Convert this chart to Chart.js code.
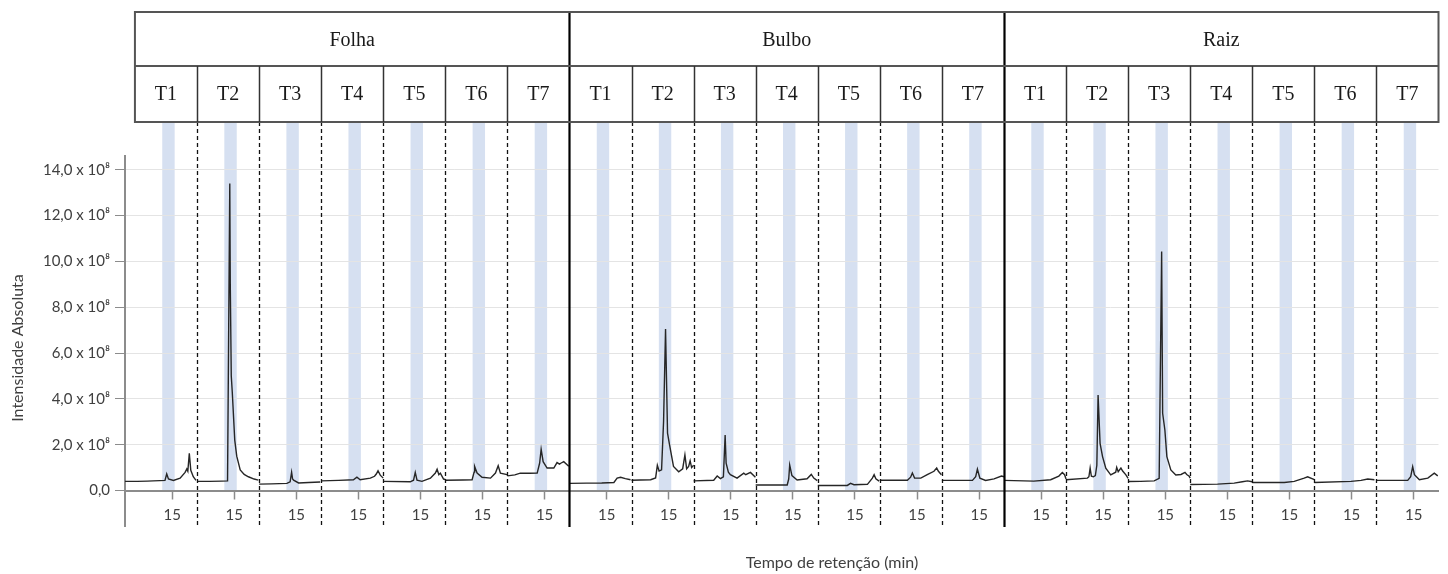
<!DOCTYPE html>
<html>
<head>
<meta charset="utf-8">
<script src="https://cdn.jsdelivr.net/npm/chart.js@4/dist/chart.umd.min.js"></script>
<style>
  html, body { margin: 0; padding: 0; background: #ffffff; }
  canvas { display: block; }
</style>
</head>
<body>
<canvas id="chrom" width="1448" height="574"></canvas>
<script>
// Tissues and treatments (header rows)
const tissues = ['Folha', 'Bulbo', 'Raiz'];
const treatments = ['T1', 'T2', 'T3', 'T4', 'T5', 'T6', 'T7'];

// Axis labels
const xTickMinute = 15;
const yTickValues = [0, 2, 4, 6, 8, 10, 12, 14];
const xTitle = 'Tempo de retenção (min)';
const yTitle = 'Intensidade Absoluta';

// Highlighted retention window (min)
const bandWindow = [14.60, 15.10];

// Chromatogram traces: [retention time (min), intensity (x 10^8)]
const folhaT1 = [[13.1,0.40],[13.6,0.40],[14.0,0.41],[14.24,0.42],[14.5,0.43],[14.71,0.44],[14.78,0.72],[14.85,0.50],[15.05,0.44],[15.32,0.54],[15.52,0.79],[15.59,0.94],[15.63,0.84],[15.69,1.62],[15.75,0.88],[15.85,0.60],[15.96,0.44]];
const folhaT2 = [[13.5,0.40],[14.0,0.40],[14.5,0.41],[14.73,0.42],[14.82,13.4],[14.84,9.0],[14.88,5.0],[14.92,4.3],[15.02,2.2],[15.10,1.5],[15.24,0.90],[15.40,0.70],[15.57,0.60],[15.80,0.50],[15.97,0.45]];
const folhaT3 = [[13.5,0.28],[14.0,0.29],[14.62,0.31],[14.75,0.38],[14.81,0.80],[14.85,0.50],[14.89,0.45],[15.09,0.33],[15.50,0.35],[15.96,0.37]];
const folhaT4 = [[13.5,0.42],[14.2,0.44],[14.80,0.47],[14.94,0.58],[15.07,0.47],[15.48,0.54],[15.65,0.62],[15.72,0.72],[15.79,0.86],[15.88,0.67],[16.0,0.54]];
const folhaT5 = [[13.5,0.40],[14.59,0.38],[14.72,0.45],[14.79,0.79],[14.86,0.45],[15.06,0.40],[15.40,0.54],[15.60,0.76],[15.67,0.93],[15.74,0.69],[15.80,0.76],[15.93,0.50],[16.0,0.48]];
const folhaT6 = [[13.5,0.45],[14.2,0.46],[14.58,0.47],[14.66,0.80],[14.68,1.05],[14.78,0.76],[14.98,0.58],[15.32,0.54],[15.52,0.76],[15.63,1.08],[15.72,0.76],[15.99,0.69]];
const folhaT7 = [[13.5,0.64],[13.8,0.68],[14.02,0.76],[14.4,0.75],[14.70,0.76],[14.80,1.20],[14.86,1.80],[14.94,1.26],[15.10,0.98],[15.37,0.98],[15.50,1.22],[15.60,1.15],[15.65,1.19],[15.77,1.26],[15.97,1.06]];

const bulboT1 = [[13.5,0.31],[14.2,0.32],[14.8,0.33],[15.29,0.35],[15.42,0.54],[15.56,0.58],[15.75,0.52],[15.96,0.47]];
const bulboT2 = [[13.5,0.45],[13.86,0.46],[14.27,0.47],[14.47,0.55],[14.54,1.10],[14.61,0.85],[14.71,0.90],[14.79,3.0],[14.87,7.05],[14.95,2.5],[15.03,2.0],[15.19,1.05],[15.40,0.82],[15.56,0.95],[15.65,1.55],[15.72,0.95],[15.80,1.05],[15.86,1.30],[15.92,1.0],[16.0,1.1]];
const bulboT3 = [[13.5,0.42],[14.31,0.45],[14.45,0.63],[14.58,0.52],[14.70,0.60],[14.77,2.42],[14.81,1.19],[14.90,0.80],[14.98,0.69],[15.25,0.54],[15.52,0.76],[15.60,0.69],[15.79,0.79],[15.99,0.58]];
const bulboT4 = [[13.5,0.24],[14.77,0.24],[14.83,0.50],[14.87,1.11],[14.96,0.65],[15.17,0.46],[15.57,0.51],[15.74,0.70],[15.84,0.54],[15.98,0.43]];
const bulboT5 = [[13.5,0.22],[14.69,0.22],[14.82,0.31],[14.96,0.25],[15.50,0.27],[15.70,0.54],[15.77,0.69],[15.84,0.51],[15.97,0.41]];
const bulboT6 = [[13.5,0.45],[14.61,0.45],[14.74,0.58],[14.81,0.76],[14.90,0.54],[15.15,0.54],[15.41,0.69],[15.68,0.84],[15.79,0.98],[15.86,0.84],[15.98,0.69]];
const bulboT7 = [[13.5,0.44],[14.73,0.44],[14.86,0.60],[14.93,0.93],[15.03,0.54],[15.26,0.44],[15.60,0.51],[15.90,0.63],[16.0,0.60]];

const raizT1 = [[13.5,0.44],[14.70,0.41],[15.38,0.47],[15.71,0.63],[15.85,0.79],[15.94,0.69],[16.0,0.50]];
const raizT2 = [[13.5,0.47],[14.36,0.54],[14.42,0.60],[14.47,0.98],[14.52,0.62],[14.60,0.60],[14.68,0.65],[14.74,1.10],[14.79,4.17],[14.87,2.06],[14.97,1.48],[15.10,0.97],[15.30,0.68],[15.50,0.80],[15.54,1.01],[15.60,0.82],[15.71,0.98],[15.78,0.85],[15.91,0.68],[16.0,0.53]];
const raizT3 = [[13.5,0.39],[14.0,0.40],[14.55,0.42],[14.75,0.53],[14.85,10.43],[14.89,3.37],[14.98,2.64],[15.06,1.48],[15.22,0.90],[15.42,0.68],[15.63,0.70],[15.79,0.79],[15.86,0.70],[15.96,0.62],[16.0,0.54]];
const raizT4 = [[13.5,0.26],[14.60,0.28],[15.27,0.32],[15.60,0.38],[15.81,0.42],[16.0,0.38]];
const raizT5 = [[13.5,0.35],[14.79,0.35],[15.19,0.40],[15.59,0.54],[15.73,0.60],[16.0,0.47]];
const raizT6 = [[13.5,0.35],[14.98,0.40],[15.38,0.44],[15.65,0.50],[15.92,0.47]];
const raizT7 = [[13.5,0.44],[14.76,0.44],[14.88,0.60],[14.96,1.04],[15.03,0.69],[15.23,0.47],[15.57,0.54],[15.83,0.76],[15.97,0.64]];

const traces = [
  folhaT1, folhaT2, folhaT3, folhaT4, folhaT5, folhaT6, folhaT7,
  bulboT1, bulboT2, bulboT3, bulboT4, bulboT5, bulboT6, bulboT7,
  raizT1, raizT2, raizT3, raizT4, raizT5, raizT6, raizT7
];

// Each panel shows the same retention window; panels are laid side by side
const WIN_START = 13.5;
const WIN_SPAN = 2.5;
const LEAD = 0.4;                 // extra time shown before the first panel
const nPanels = tissues.length * treatments.length;
const toAxis = (k, t) => k * WIN_SPAN + (t - WIN_START);

const datasets = traces.map((pts, k) => ({
  data: pts.map(([t, v]) => ({ x: toAxis(k, t), y: v })),
  borderColor: '#262626',
  borderWidth: 1.4,
  pointRadius: 0,
  fill: false,
  tension: 0
}));

const yLabel = v => v === 0 ? '0,0' : v.toFixed(1).replace('.', ',') + ' x 10\u2078';

// Layout of the header table and frame
const HEAD_TOP = 12, HEAD_MID = 66, HEAD_BOTTOM = 122, FRAME_BOTTOM = 527;

const decor = {
  id: 'decor',
  beforeDraw(chart) {
    const { ctx, scales: { x, y } } = chart;
    ctx.save();
    ctx.fillStyle = '#d6e0f1';
    for (let k = 0; k < nPanels; k++) {
      const x0 = x.getPixelForValue(toAxis(k, bandWindow[0]));
      const x1 = x.getPixelForValue(toAxis(k, bandWindow[1]));
      ctx.fillRect(x0, HEAD_BOTTOM, x1 - x0, y.getPixelForValue(0) - HEAD_BOTTOM);
    }
    ctx.restore();
  },
  afterDraw(chart) {
    const { ctx, chartArea: a, scales: { x, y } } = chart;
    const px = v => x.getPixelForValue(v);
    const y0 = y.getPixelForValue(0);
    ctx.save();

    // y axis continues below the x axis
    ctx.strokeStyle = '#8c8c8c';
    ctx.lineWidth = 2;
    ctx.beginPath();
    ctx.moveTo(a.left, y0);
    ctx.lineTo(a.left, FRAME_BOTTOM);
    ctx.stroke();

    // panel separators
    for (let k = 1; k < nPanels; k++) {
      const xx = Math.round(px(k * WIN_SPAN)) + 0.5;
      const groupEdge = k % treatments.length === 0;
      ctx.beginPath();
      if (groupEdge) {
        ctx.setLineDash([]);
        ctx.strokeStyle = '#000000';
        ctx.lineWidth = 2.2;
        ctx.moveTo(xx, HEAD_TOP);
      } else {
        ctx.setLineDash([4, 3]);
        ctx.strokeStyle = '#111111';
        ctx.lineWidth = 1.3;
        ctx.moveTo(xx, HEAD_BOTTOM);
      }
      ctx.lineTo(xx, FRAME_BOTTOM);
      ctx.stroke();
    }
    ctx.setLineDash([]);

    // header table
    const left = px(0), right = px(nPanels * WIN_SPAN);
    ctx.strokeStyle = '#555555';
    ctx.lineWidth = 2;
    ctx.strokeRect(left, HEAD_TOP, right - left, HEAD_BOTTOM - HEAD_TOP);
    ctx.beginPath();
    ctx.moveTo(left, HEAD_MID);
    ctx.lineTo(right, HEAD_MID);
    ctx.stroke();
    ctx.strokeStyle = '#333333';
    ctx.lineWidth = 1.5;
    for (let k = 1; k < nPanels; k++) {
      if (k % treatments.length === 0) continue;
      const xx = Math.round(px(k * WIN_SPAN)) + 0.5;
      ctx.beginPath();
      ctx.moveTo(xx, HEAD_MID);
      ctx.lineTo(xx, HEAD_BOTTOM);
      ctx.stroke();
    }

    ctx.fillStyle = '#1a1a1a';
    ctx.font = '20px "Liberation Serif", "Times New Roman", serif';
    ctx.textAlign = 'center';
    ctx.textBaseline = 'middle';
    tissues.forEach((name, g) => {
      const gx0 = px(g * treatments.length * WIN_SPAN);
      const gx1 = px((g + 1) * treatments.length * WIN_SPAN);
      ctx.fillText(name, (gx0 + gx1) / 2, (HEAD_TOP + HEAD_MID) / 2 + 2);
      treatments.forEach((tr, j) => {
        const k = g * treatments.length + j;
        const cx0 = px(k * WIN_SPAN);
        const cx1 = px((k + 1) * WIN_SPAN);
        ctx.fillText(tr, (cx0 + cx1) / 2, (HEAD_MID + HEAD_BOTTOM) / 2 + 1);
      });
    });

    // axis titles
    ctx.fillStyle = '#404040';
    ctx.font = '16px Lato, "Open Sans", sans-serif';
    ctx.fillText(xTitle, 832, 563);
    ctx.translate(18, 348);
    ctx.rotate(-Math.PI / 2);
    ctx.fillText(yTitle, 0, 0);
    ctx.restore();
  }
};

new Chart(document.getElementById('chrom'), {
  type: 'line',
  data: { datasets },
  plugins: [decor],
  options: {
    responsive: false,
    animation: false,
    devicePixelRatio: 1,
    layout: { padding: { top: 156, left: 0, right: 9.5, bottom: 0 } },
    plugins: { legend: { display: false }, tooltip: { enabled: false } },
    scales: {
      x: {
        type: 'linear',
        min: -LEAD,
        max: nPanels * WIN_SPAN,
        afterBuildTicks: s => {
          s.ticks = Array.from({ length: nPanels }, (_, k) => ({ value: toAxis(k, xTickMinute) }));
        },
        ticks: {
          callback: () => String(xTickMinute),
          color: '#404040',
          font: { family: 'Lato', size: 15 },
          padding: 7,
          autoSkip: false,
          maxRotation: 0
        },
        grid: { drawOnChartArea: false, drawTicks: true, tickLength: 9, tickColor: '#8c8c8c', tickWidth: 1.5 },
        border: { color: '#8c8c8c', width: 2 },
        afterFit: s => { s.height = 574 - 490.5; }
      },
      y: {
        min: 0,
        max: 14.6,
        afterBuildTicks: s => { s.ticks = yTickValues.map(v => ({ value: v })); },
        ticks: {
          callback: v => yLabel(v),
          color: '#404040',
          font: { family: 'Lato', size: 15 },
          padding: 5
        },
        grid: { color: '#e4e4e4', lineWidth: 1, tickColor: '#8c8c8c', tickLength: 10 },
        border: { color: '#8c8c8c', width: 2 },
        afterFit: s => { s.width = 125; }
      }
    }
  }
});
</script>
</body>
</html>
